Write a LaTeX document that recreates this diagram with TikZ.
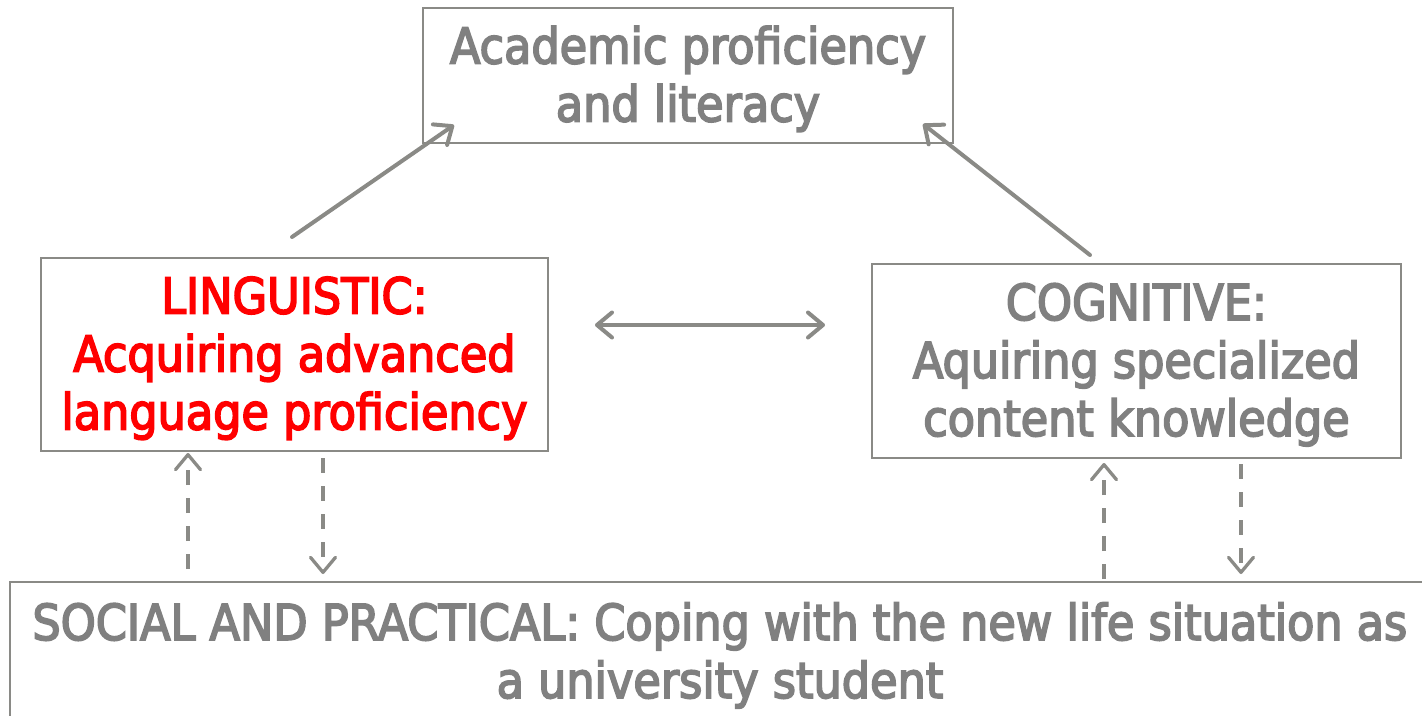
\documentclass[tikz,border=0pt]{standalone}
\usepackage{fontspec}
\newfontfamily\boxfont{DejaVu Sans Condensed}[FakeBold=3.4]
\usetikzlibrary{arrows.meta}

\definecolor{txtgray}{RGB}{128,128,128}
\definecolor{linegray}{RGB}{138,138,134}

% extra room above the first line of a box
\newcommand{\firstline}{\rule{0pt}{12.6pt}}

\begin{document}
\begin{tikzpicture}
  [>={Straight Barb[length=1.5mm,width=2.5mm,round]},
   box/.style={draw=linegray,line width=0.22mm,text=txtgray,align=center,
     inner sep=0pt,font=\boxfont\fontsize{14.1}{16.5}\selectfont},
   conn/.style={draw=linegray,line width=0.4mm,line cap=round,->},
   dconn/.style={conn,line width=0.33mm,line cap=butt,dash pattern=on 1.5mm off 1.3mm}]
  \clip (0,0) rectangle (14.22,-7.15);

  \node[box,minimum width=5.30cm,minimum height=1.35cm] (acad) at (6.88,-0.755)
    {\firstline Academic proficiency\\and literacy};
  \node[box,minimum width=5.07cm,minimum height=1.93cm,text=red] (ling) at (2.945,-3.545)
    {\firstline LINGUISTIC:\\Acquiring advanced\\language proficiency};
  \node[box,minimum width=5.29cm,minimum height=1.94cm] (cogn) at (11.365,-3.61)
    {\firstline COGNITIVE:\\Aquiring specialized\\content knowledge};
  \node[box,minimum width=14.20cm,minimum height=1.40cm] (soc) at (7.20,-6.52)
    {\firstline SOCIAL AND PRACTICAL: Coping with the new life situation as\\a university student};

  % end points of the arrows
  \coordinate (l1) at (2.92,-2.37);   \coordinate (a1) at (4.54,-1.25);
  \coordinate (r1) at (10.90,-2.55);  \coordinate (a2) at (9.23,-1.24);
  \coordinate (m1) at (5.95,-3.25);   \coordinate (m2) at (8.25,-3.25);
  \coordinate (l2) at (1.88,-5.69);   \coordinate (l3) at (1.88,-4.53);
  \coordinate (l4) at (3.23,-4.58);   \coordinate (l5) at (3.23,-5.74);
  \coordinate (r2) at (11.04,-5.79);  \coordinate (r3) at (11.04,-4.63);
  \coordinate (r4) at (12.41,-4.64);  \coordinate (r5) at (12.41,-5.74);

  \foreach \from/\to in {l1/a1, r1/a2}
    \draw [conn] (\from) -- (\to);
  \draw [conn,<->] (m1) -- (m2);
  \foreach \from/\to in {l2/l3, l4/l5, r2/r3, r4/r5}
    \draw [dconn] (\from) -- (\to);

\end{tikzpicture}
\end{document}
